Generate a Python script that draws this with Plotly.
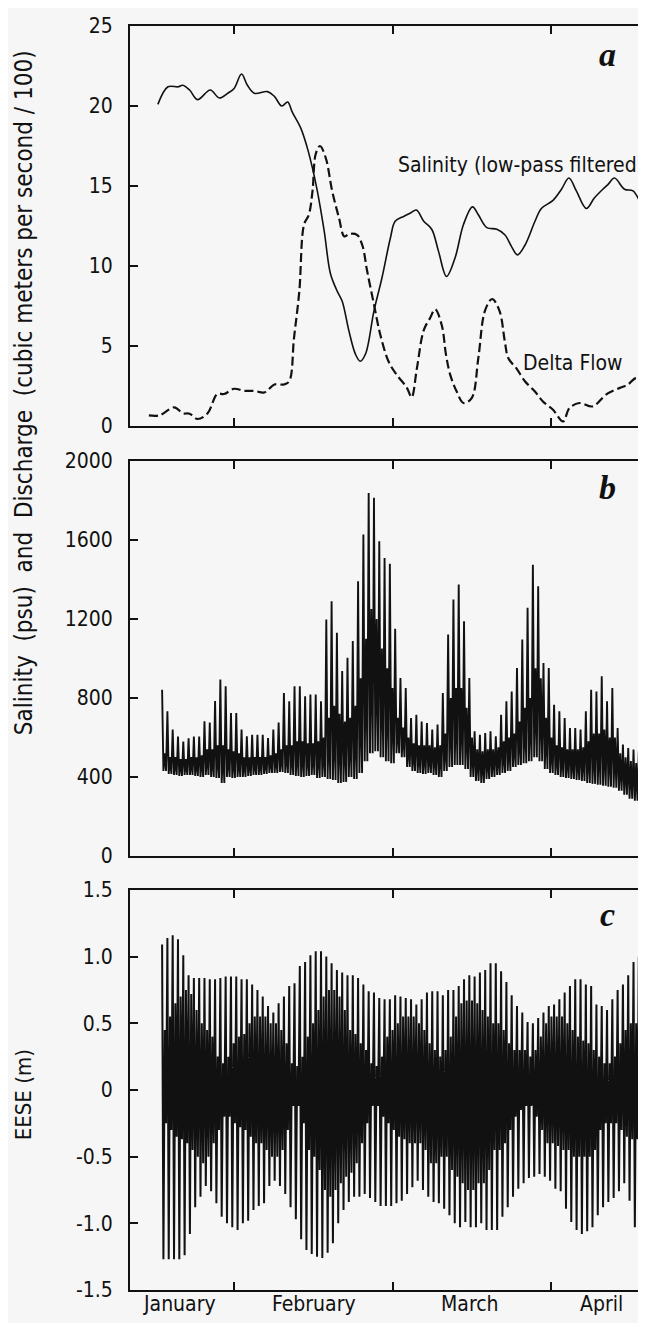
import plotly.graph_objects as go

# ---------------- data (x = day number, ticks every 30 days) ----------------
# Panel a: low-pass filtered salinity and Delta flow
sal_day = [15.7, 17.6, 19.5, 20.4, 21.7, 23.2, 25.6, 27.3, 28.9, 30.1, 31.5, 32.6, 33.9, 36.4,
           37.7, 39.1, 40.2, 41.1, 42.7, 43.9, 44.9, 45.8, 47.1, 48.3, 49.6, 50.5, 51.8, 53.0,
           53.9, 54.9, 56.5, 58.0, 59.6, 60.5, 62.1, 63.3, 64.5, 65.9, 67.4, 68.7, 70.2, 71.8,
           73.4, 75.1, 76.2, 77.8, 79.7, 81.2, 82.5, 83.6, 85.0, 86.9, 88.1, 90.3, 91.9, 93.3,
           94.7, 96.6, 98.1, 99.7, 100.7, 101.9, 103.8, 105.4, 106.6, 107.6]
sal_val = [20.1, 21.2, 21.2, 21.3, 21.0, 20.4, 21.0, 20.5, 20.8, 21.1, 22.0, 21.3, 20.8, 20.9,
           20.6, 20.0, 20.25, 19.6, 18.6, 17.4, 16.1, 14.7, 12.2, 9.5, 8.4, 7.8, 5.9, 4.5,
           4.05, 4.5, 7.2, 9.25, 11.75, 12.8, 13.1, 13.3, 13.5, 12.8, 12.3, 10.9, 9.35, 10.5,
           12.6, 13.7, 13.2, 12.4, 12.3, 11.95, 11.2, 10.7, 11.3, 12.8, 13.6, 14.1, 14.8, 15.5,
           14.7, 13.6, 14.25, 14.8, 15.1, 15.5, 14.8, 14.7, 14.1, 13.5]

flow_day = [14.0, 16.0, 18.8, 20.4, 21.7, 23.2, 25.1, 26.9, 28.2, 30.1, 32.0, 33.9, 35.8, 37.7,
            39.5, 40.5, 41.4, 42.4, 43.3, 44.2, 44.9, 45.5, 46.3, 47.4, 48.6, 49.9, 50.9, 51.8,
            53.3, 54.3, 55.2, 56.5, 57.7, 59.3, 60.8, 62.7, 63.6, 64.6, 65.9, 67.1, 68.05, 69.3,
            70.1, 70.9, 72.1, 73.4, 74.95, 76.2, 77.45, 78.8, 80.2, 81.2, 81.85, 83.4, 85.0,
            86.85, 88.4, 90.3, 92.2, 93.4, 95.3, 97.8, 100.3, 102.8, 104.4, 106.0, 107.5, 109.0]
flow_val = [0.67, 0.67, 1.17, 0.8, 0.77, 0.44, 0.8, 2.0, 2.0, 2.33, 2.2, 2.2, 2.1, 2.6,
            2.6, 2.8, 5.5, 8.4, 12.6, 13.2, 14.7, 17.0, 17.5, 16.75, 14.7, 13.0, 11.85, 12.0,
            11.95, 11.3, 9.7, 7.6, 5.7, 4.0, 3.2, 2.4, 1.8, 3.6, 6.0, 6.75, 7.3, 6.3,
            4.45, 3.2, 2.17, 1.44, 1.75, 4.25, 7.2, 7.94, 7.2, 5.3, 4.25, 3.6, 2.8,
            2.17, 1.54, 1.02, 0.29, 1.12, 1.44, 1.23, 1.96, 2.37, 2.58, 3.0, 2.7, 2.4]

# Panels b and c: one entry per day, days 16 .. 107
days = list(range(16, 108))

b_max = [842, 732, 640, 604, 579, 596, 604, 604, 682, 675,
         785, 893, 859, 724, 724, 640, 606, 614, 614, 614,
         597, 640, 675, 825, 783, 859, 859, 808, 817, 817,
         783, 1197, 1289, 1130, 936, 1003, 1088, 1391, 1627, 1838,
         1813, 1593, 1509, 1480, 1150, 901, 850, 698, 715, 681,
         673, 640, 665, 825, 1121, 1298, 1374, 1188, 901, 631,
         614, 623, 631, 606, 715, 783, 833, 952, 1096, 1256,
         1475, 1366, 977, 952, 766, 732, 698, 648, 648, 640,
         732, 842, 833, 910, 783, 850, 648, 564, 547, 539,
         530, 614]
b_min = [430, 415, 410, 405, 410, 410, 405, 400, 410, 400,
         395, 370, 400, 395, 400, 400, 405, 410, 410, 415,
         420, 420, 425, 420, 410, 405, 400, 405, 410, 395,
         400, 390, 385, 370, 375, 400, 390, 420, 480, 520,
         530, 500, 480, 470, 520, 500, 450, 430, 420, 415,
         420, 410, 400, 430, 450, 460, 460, 440, 400, 380,
         370, 390, 400, 410, 420, 430, 450, 460, 470, 480,
         500, 480, 440, 420, 410, 400, 395, 390, 385, 380,
         370, 365, 360, 355, 350, 345, 330, 310, 290, 280,
         275, 285]
b_mid = [520, 500, 500, 490, 490, 500, 500, 510, 540, 540,
         560, 560, 540, 530, 520, 500, 500, 500, 500, 500,
         510, 520, 540, 560, 560, 580, 580, 570, 570, 580,
         600, 700, 760, 720, 680, 700, 760, 900, 1100, 1250,
         1200, 1050, 950, 850, 700, 650, 600, 570, 560, 560,
         560, 550, 560, 620, 800, 850, 850, 750, 600, 540,
         530, 540, 540, 550, 580, 600, 620, 680, 750, 800,
         950, 900, 700, 600, 560, 550, 540, 540, 540, 550,
         580, 620, 620, 640, 600, 600, 520, 500, 480, 470,
         460, 480]

c_top = [1.09, 1.14, 1.16, 1.13, 1.01, 0.86, 0.84, 0.84, 0.84, 0.83,
         0.83, 0.84, 0.85, 0.85, 0.85, 0.83, 0.83, 0.79, 0.75, 0.70,
         0.63, 0.58, 0.65, 0.70, 0.78, 0.80, 0.93, 0.96, 1.01, 1.04,
         1.04, 1.00, 0.95, 0.90, 0.88, 0.86, 0.86, 0.84, 0.79, 0.74,
         0.73, 0.69, 0.68, 0.68, 0.71, 0.70, 0.69, 0.68, 0.64, 0.68,
         0.73, 0.74, 0.74, 0.71, 0.75, 0.75, 0.78, 0.83, 0.86, 0.85,
         0.88, 0.90, 0.95, 0.95, 0.89, 0.81, 0.71, 0.63, 0.58, 0.51,
         0.50, 0.54, 0.58, 0.63, 0.64, 0.68, 0.73, 0.78, 0.83, 0.83,
         0.79, 0.78, 0.64, 0.63, 0.60, 0.68, 0.75, 0.79, 0.86, 0.96,
         1.00, 1.00]
c_bot = [-1.27, -1.27, -1.27, -1.27, -1.24, -1.08, -0.88, -0.80, -0.72, -0.76,
         -0.85, -0.95, -1.00, -1.03, -1.05, -1.00, -0.98, -0.90, -0.87, -0.85,
         -0.72, -0.68, -0.72, -0.78, -0.88, -0.97, -1.12, -1.20, -1.23, -1.25,
         -1.26, -1.22, -1.15, -1.00, -0.90, -0.84, -0.80, -0.80, -0.78, -0.81,
         -0.84, -0.87, -0.87, -0.87, -0.85, -0.83, -0.78, -0.73, -0.68, -0.75,
         -0.80, -0.84, -0.85, -0.89, -0.94, -1.00, -1.03, -0.99, -1.03, -1.03,
         -1.00, -1.05, -1.05, -1.05, -0.95, -0.88, -0.80, -0.74, -0.70, -0.66,
         -0.65, -0.63, -0.65, -0.68, -0.74, -0.76, -0.89, -0.99, -1.05, -1.08,
         -1.06, -1.03, -0.94, -0.88, -0.84, -0.81, -0.76, -0.70, -0.83, -1.03,
         -1.15, -1.20]
c_in_hi = [0.45, 0.55, 0.65, 0.70, 0.75, 0.72, 0.60, 0.50, 0.45, 0.40,
           0.25, 0.20, 0.25, 0.35, 0.40, 0.42, 0.50, 0.55, 0.55, 0.55,
           0.50, 0.50, 0.45, 0.35, 0.20, 0.18, 0.25, 0.40, 0.50, 0.60,
           0.70, 0.75, 0.75, 0.70, 0.60, 0.45, 0.42, 0.35, 0.30, 0.20,
           0.18, 0.25, 0.40, 0.45, 0.50, 0.55, 0.55, 0.55, 0.50, 0.45,
           0.35, 0.30, 0.25, 0.30, 0.40, 0.55, 0.65, 0.67, 0.67, 0.65,
           0.60, 0.55, 0.50, 0.50, 0.45, 0.35, 0.30, 0.30, 0.30, 0.25,
           0.30, 0.40, 0.50, 0.55, 0.55, 0.55, 0.50, 0.45, 0.40, 0.37,
           0.35, 0.30, 0.25, 0.20, 0.20, 0.25, 0.35, 0.45, 0.50, 0.50,
           0.50, 0.45]
c_in_lo = [-0.25, -0.30, -0.35, -0.37, -0.40, -0.45, -0.50, -0.55, -0.50, -0.40,
           -0.30, -0.20, -0.20, -0.25, -0.28, -0.30, -0.35, -0.40, -0.40, -0.45,
           -0.50, -0.50, -0.45, -0.30, -0.12, -0.12, -0.25, -0.45, -0.50, -0.60,
           -0.75, -0.80, -0.75, -0.70, -0.65, -0.62, -0.55, -0.40, -0.25, -0.12,
           -0.12, -0.20, -0.25, -0.30, -0.35, -0.37, -0.40, -0.40, -0.40, -0.45,
           -0.55, -0.55, -0.50, -0.50, -0.60, -0.65, -0.70, -0.75, -0.75, -0.70,
           -0.70, -0.60, -0.45, -0.45, -0.40, -0.30, -0.20, -0.15, -0.12, -0.12,
           -0.20, -0.30, -0.40, -0.40, -0.42, -0.45, -0.45, -0.50, -0.50, -0.50,
           -0.50, -0.45, -0.30, -0.25, -0.25, -0.25, -0.30, -0.35, -0.37, -0.37,
           -0.40, -0.37]

# axis ticks / labels
month_labels = ["January", "February", "March", "April"]
month_label_day = [19.8, 45.2, 74.6, 99.5]
month_tick_day = [30, 60, 90]
ya_ticks = [0, 5, 10, 15, 20, 25]
yb_ticks = [0, 400, 800, 1200, 1600, 2000]
yc_ticks = [-1.5, -1.0, -0.5, 0, 0.5, 1.0, 1.5]
yc_labels = ["-1.5", "-1.0", "-0.5", "0", "0.5", "1.0", "1.5"]

# ---------------- styling ----------------
FONT = "DejaVu Sans Condensed, Liberation Sans Narrow, Arial Narrow, sans-serif"
SERIF = "Liberation Serif, Times New Roman, DejaVu Serif, serif"
INK = "#111111"
BG = "#f6f6f6"
X_RANGE = [10.44, 108.8]
FS = 21


def zigzag(day_list, seqs, offsets):
    xs, ys = [], []
    for i, d in enumerate(day_list):
        for s, o in zip(seqs, offsets):
            xs.append(d + o)
            ys.append(s[i])
    return xs, ys


OFFS = [0.5, 0.75, 1.0, 1.25]
bx, by = zigzag(days, [b_max, b_min, b_mid, b_min], OFFS)
cx, cy = zigzag(days, [c_top, c_bot, c_in_hi, c_in_lo], OFFS)

fig = go.Figure()
fig.add_trace(go.Scatter(x=sal_day, y=sal_val, mode="lines", line=dict(color=INK, width=1.6, shape="spline"),
                         xaxis="x", yaxis="y", name="Salinity"))
fig.add_trace(go.Scatter(x=flow_day, y=flow_val, mode="lines",
                         line=dict(color=INK, width=2.2, dash="9px,4px", shape="spline"),
                         xaxis="x", yaxis="y", name="Delta Flow"))
fig.add_trace(go.Scatter(x=bx, y=by, mode="lines", line=dict(color=INK, width=1.9),
                         xaxis="x2", yaxis="y2", name="b"))
fig.add_trace(go.Scatter(x=cx, y=cy, mode="lines", line=dict(color=INK, width=2.0),
                         xaxis="x3", yaxis="y3", name="EESE"))

common_x = dict(range=X_RANGE, tickmode="array", tickvals=month_tick_day, showticklabels=False,
                ticks="inside", ticklen=8, tickwidth=2, tickcolor=INK,
                showline=True, linewidth=2, linecolor=INK, mirror="ticks",
                showgrid=False, zeroline=False)
common_y = dict(ticks="inside", ticklen=8, tickwidth=2, tickcolor=INK,
                showline=True, linewidth=2, linecolor=INK, mirror="ticks",
                showgrid=False, zeroline=False, tickmode="array",
                tickfont=dict(family=FONT, size=FS, color=INK), ticklabelstandoff=11)

dom_a = [0.6835, 1.0]
dom_b = [0.3434, 0.6559]
dom_c = [0.0, 0.3165]

fig.update_layout(
    width=646, height=1323,
    margin=dict(l=122, r=1, t=18, b=41),
    paper_bgcolor=BG, plot_bgcolor=BG,
    showlegend=False,
    font=dict(family=FONT, size=FS, color=INK),
    xaxis=dict(common_x, anchor="y", domain=[0, 1]),
    xaxis2=dict(common_x, anchor="y2", domain=[0, 1]),
    xaxis3=dict(common_x, anchor="y3", domain=[0, 1]),
    yaxis=dict(common_y, anchor="x", domain=dom_a, range=[0, 25], tickvals=ya_ticks,
               ticktext=[str(v) for v in ya_ticks]),
    yaxis2=dict(common_y, anchor="x2", domain=dom_b, range=[0, 2000], tickvals=yb_ticks,
                ticktext=[str(v) for v in yb_ticks]),
    yaxis3=dict(common_y, anchor="x3", domain=dom_c, range=[-1.5, 1.5], tickvals=yc_ticks,
                ticktext=yc_labels),
)

ann = []
# month labels under the bottom panel
for lab, d in zip(month_labels, month_label_day):
    ann.append(dict(x=d, y=-0.0112, xref="x3", yref="paper", text=lab, showarrow=False,
                    xanchor="center", yanchor="middle", font=dict(family=FONT, size=FS, color=INK)))
# curve labels in panel a
ann.append(dict(x=84.35, y=16.3, xref="x", yref="y", text="Salinity (low-pass filtered)", showarrow=False,
                xanchor="center", yanchor="middle", font=dict(family=FONT, size=FS, color=INK)))
ann.append(dict(x=94.0, y=3.94, xref="x", yref="y", text="Delta Flow", showarrow=False,
                xanchor="center", yanchor="middle", font=dict(family=FONT, size=FS, color=INK)))
# panel letters
for letter, xr, yr, yv in [("a", "x", "y", 23.25), ("b", "x2", "y2", 1868), ("c", "x3", "y3", 1.315)]:
    ann.append(dict(x=100.6, y=yv, xref=xr, yref=yr, text="<b><i>%s</i></b>" % letter, showarrow=False,
                    xanchor="center", yanchor="middle", font=dict(family=SERIF, size=34, color=INK)))
# y-axis titles
ann.append(dict(x=-0.203, y=0.7097, xref="paper", yref="paper",
                text="Salinity  (psu)  and  Discharge  (cubic meters per second / 100)",
                textangle=-90, showarrow=False, xanchor="center", yanchor="middle",
                font=dict(family=FONT, size=24, color=INK)))
ann.append(dict(x=-0.203, y=0.1543, xref="paper", yref="paper", text="EESE (m)",
                textangle=-90, showarrow=False, xanchor="center", yanchor="middle",
                font=dict(family=FONT, size=22, color=INK)))
fig.update_layout(annotations=ann)

fig.write_html("out.html")
